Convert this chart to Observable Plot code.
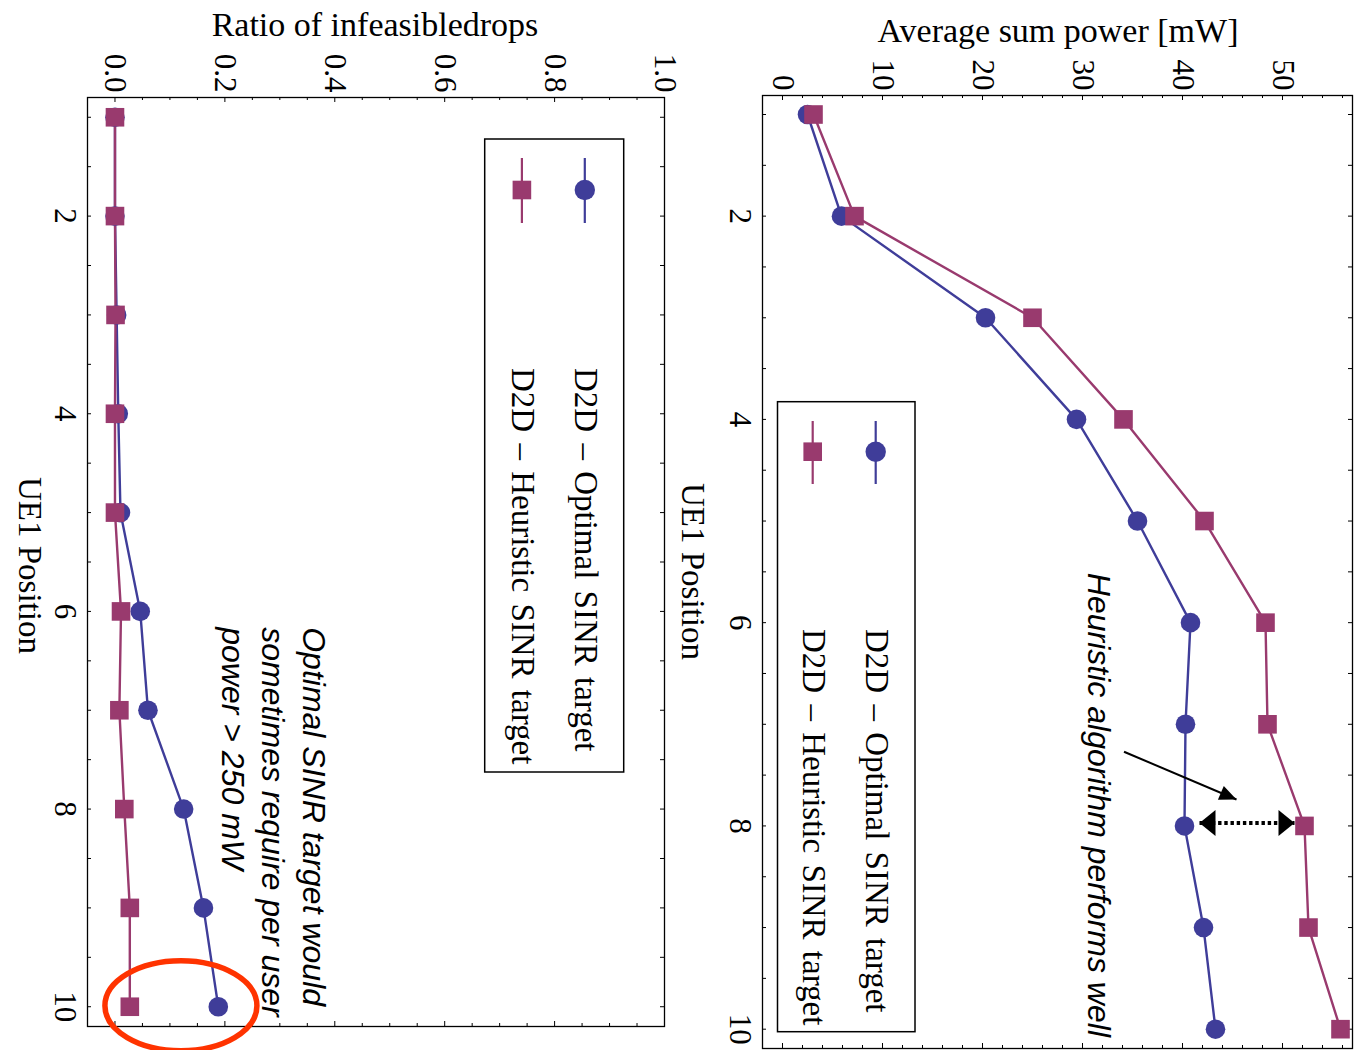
<!DOCTYPE html>
<html>
<head>
<meta charset="utf-8">
<script src="https://cdn.jsdelivr.net/npm/d3@7"></script>
<script src="https://cdn.jsdelivr.net/npm/@observablehq/plot@0.6"></script>
<style>
  html, body { margin: 0; padding: 0; background: #fff; }
  #root { position: relative; width: 1359px; height: 1050px; overflow: hidden; background: #fff; }
  .panel { position: absolute; top: 0; }
  #overlay { position: absolute; left: 0; top: 0; pointer-events: none; }
</style>
</head>
<body>
<div id="root">
  <div class="panel" id="ratioPanel" style="left:0px"></div>
  <div class="panel" id="powerPanel" style="left:700px"></div>
</div>
<script>
// ---------------- data ----------------
const positions      = [1, 2, 3, 4, 5, 6, 7, 8, 9, 10];
const powerOptimal   = [2.5, 5.9, 20.3, 29.4, 35.5, 40.8, 40.3, 40.2, 42.1, 43.3];
const powerHeuristic = [3.1, 7.2, 25.0, 34.1, 42.2, 48.3, 48.5, 52.2, 52.6, 55.8];
const ratioOptimal   = [0.000, 0.000, 0.003, 0.006, 0.010, 0.046, 0.060, 0.125, 0.161, 0.188];
const ratioHeuristic = [0.000, 0.000, 0.001, 0.000, 0.000, 0.011, 0.008, 0.017, 0.027, 0.027];
const seriesNames    = ["D2D \u2013 Optimal SINR target", "D2D \u2013 Heuristic SINR target"];
const powerTicks     = [0, 10, 20, 30, 40, 50];
const ratioTicks     = [0, 0.2, 0.4, 0.6, 0.8, 1.0];
const positionTicks  = [2, 4, 6, 8, 10];
const titles         = ["Average sum power [mW]", "Ratio of infeasibledrops"];
const xLabel         = "UE1 Position";
const noteTop        = "Heuristic algorithm performs well";
const noteBottom     = ["Optimal SINR target would", "sometimes require per user", "power > 250 mW"];

// ---------------- styles ----------------
const blue = "#3f3d99", magenta = "#993a6e", red = "#ff3300";
const serif = "'Liberation Serif', 'Times New Roman', serif";
const sans = "'Liberation Sans', Arial, sans-serif";

const rows = (a, b) => [
  positions.map((p, i) => ({pos: p, value: a[i], series: seriesNames[0]})),
  positions.map((p, i) => ({pos: p, value: b[i], series: seriesNames[1]}))
];

// custom symbols
const ellipseSym = (rx, ry) => ({draw(ctx) {
  const k = 0.5523;
  ctx.moveTo(rx, 0);
  ctx.bezierCurveTo(rx, ry * k, rx * k, ry, 0, ry);
  ctx.bezierCurveTo(-rx * k, ry, -rx, ry * k, -rx, 0);
  ctx.bezierCurveTo(-rx, -ry * k, -rx * k, -ry, 0, -ry);
  ctx.bezierCurveTo(rx * k, -ry, rx, -ry * k, rx, 0);
  ctx.closePath();
}});
const headSym = (len, w, deg) => ({draw(ctx) {
  const a = deg * Math.PI / 180, c = Math.cos(a), s = Math.sin(a);
  const rot = (x, y) => [x * c - y * s, x * s + y * c];
  const p1 = rot(-len, -w / 2), p2 = rot(-len, w / 2);
  ctx.moveTo(0, 0); ctx.lineTo(p1[0], p1[1]); ctx.lineTo(p2[0], p2[1]); ctx.closePath();
}});

// inward frame ticks drawn as short rules at the frame edges
function frameTicks(xMajor, xMinor, yTicks, fw, fh) {
  const st = {stroke: "black", strokeWidth: 1};
  return [
    Plot.ruleX(xMajor, {...st, insetBottom: fh - 5}),
    Plot.ruleX(xMajor, {...st, insetTop: fh - 5}),
    Plot.ruleX(xMinor, {...st, insetBottom: fh - 3}),
    Plot.ruleX(xMinor, {...st, insetTop: fh - 3}),
    Plot.ruleY(yTicks, {...st, insetRight: fw - 4}),
    Plot.ruleY(yTicks, {...st, insetLeft: fw - 4})
  ];
}

function seriesMarks(a, b, rCircle, rSquare) {
  const [opt, heu] = rows(a, b);
  return [
    Plot.line(opt, {x: "value", y: "pos", stroke: blue, strokeWidth: 2.4}),
    Plot.line(heu, {x: "value", y: "pos", stroke: magenta, strokeWidth: 2.4}),
    Plot.dot(opt, {x: "value", y: "pos", symbol: "circle", r: rCircle, fill: blue}),
    Plot.dot(heu, {x: "value", y: "pos", symbol: "square", r: rSquare, fill: magenta})
  ];
}

const yMinorAll = d3.range(2, 21).map(i => i / 2); // 1, 1.5, ... 10

// ---------------- power panel (right) ----------------
const powerMinor = d3.range(1, 29).map(i => i * 2).filter(v => v % 10 !== 0);
const arrowFrom = {value: 34.15, pos: 7.27}, arrowTo = {value: 45.4, pos: 7.74};
const gapLeft = {value: 41.7, pos: 7.97}, gapRight = {value: 51.2, pos: 7.97};
const noteTopAt = {value: 31.6, pos: 5.51};

const powerPlot = Plot.plot({
  width: 659, height: 1050,
  marginLeft: 62, marginRight: 7, marginTop: 95, marginBottom: 2,
  style: {fontFamily: serif, fontSize: "31px", background: "transparent", overflow: "visible", color: "black"},
  x: {domain: [-2, 57]},
  y: {domain: [0.813, 10.19], reverse: true},
  marks: [
    ...frameTicks(powerTicks, powerMinor, yMinorAll, 590, 953),
    Plot.frame({stroke: "black", strokeWidth: 1.3}),
    Plot.axisX({anchor: "top", ticks: powerTicks, tickSize: 0, tickPadding: 5, tickRotate: 90,
      textAnchor: "end", lineAnchor: "middle", fontSize: 31, tickFormat: d3.format("d"), label: null}),
    Plot.axisY({anchor: "left", ticks: positionTicks, tickSize: 0, tickPadding: 10, tickRotate: 90,
      textAnchor: "middle", lineAnchor: "top", fontSize: 31, tickFormat: d3.format("d"), label: null}),
    ...seriesMarks(powerOptimal, powerHeuristic, 9.8, 10.5),
    // annotation arrow
    Plot.link([arrowFrom], {x1: () => arrowFrom.value, y1: () => arrowFrom.pos, x2: () => arrowTo.value, y2: () => arrowTo.pos, stroke: "black", strokeWidth: 2}),
    Plot.dot([arrowTo], {x: "value", y: "pos", r: 1, symbol: headSym(17, 15, 23), fill: "black", stroke: "none"}),
    // dotted double arrow
    Plot.link([gapLeft], {x1: () => gapLeft.value, y1: () => gapLeft.pos, x2: () => gapRight.value, y2: () => gapRight.pos, stroke: "black", strokeWidth: 4, strokeDasharray: "3.4,2.8"}),
    Plot.dot([gapLeft], {x: "value", y: "pos", r: 1, symbol: headSym(16, 26, 180), fill: "black", stroke: "none"}),
    Plot.dot([gapRight], {x: "value", y: "pos", r: 1, symbol: headSym(16, 26, 0), fill: "black", stroke: "none"}),
    Plot.text([noteTop], {x: () => noteTopAt.value, y: () => noteTopAt.pos, text: d => d, rotate: 90,
      textAnchor: "start", lineAnchor: "middle", fontFamily: sans, fontStyle: "italic", fontSize: 32, fill: "black"})
  ]
});
document.getElementById("powerPanel").appendChild(powerPlot);

// ---------------- ratio panel (left) ----------------
const ratioMinor = d3.range(1, 20).filter(i => i % 4 !== 0).map(i => i * 0.05);
const noteBottomAt = {value: 0.292, pos: 6.16};
const circleAt = {value: 0.12, pos: 9.99};

const ratioPlot = Plot.plot({
  width: 700, height: 1050,
  marginLeft: 87, marginRight: 36, marginTop: 97, marginBottom: 24,
  style: {fontFamily: serif, fontSize: "31px", background: "transparent", overflow: "visible", color: "black"},
  x: {domain: [-0.05, 1.0]},
  y: {domain: [0.8, 10.2], reverse: true},
  marks: [
    ...frameTicks(ratioTicks, ratioMinor, yMinorAll, 577, 929),
    Plot.frame({stroke: "black", strokeWidth: 1.3}),
    Plot.axisX({anchor: "top", ticks: ratioTicks, tickSize: 0, tickPadding: 5, tickRotate: 90,
      textAnchor: "end", lineAnchor: "middle", fontSize: 31, tickFormat: d3.format(".1f"), label: null}),
    Plot.axisY({anchor: "left", ticks: positionTicks, tickSize: 0, tickPadding: 10, tickRotate: 90,
      textAnchor: "middle", lineAnchor: "top", fontSize: 31, tickFormat: d3.format("d"), label: null}),
    ...seriesMarks(ratioOptimal, ratioHeuristic, 9.8, 10.5),
    Plot.text([noteBottom.join("\n")], {x: () => noteBottomAt.value, y: () => noteBottomAt.pos, text: d => d, rotate: 90,
      textAnchor: "start", lineAnchor: "middle", lineHeight: 1.27, fontFamily: sans, fontStyle: "italic", fontSize: 32, fill: "black"}),
    Plot.dot([circleAt], {x: "value", y: "pos", r: 1, symbol: ellipseSym(76, 45), fill: "none", stroke: red, strokeWidth: 5.5})
  ]
});
document.getElementById("ratioPanel").appendChild(ratioPlot);

// ---------------- overlay: titles, axis labels, legends ----------------
const ov = d3.select("#root").append("svg").attr("id", "overlay")
  .attr("width", 1359).attr("height", 1050)
  .style("font-family", serif);

ov.append("text").attr("x", 1058).attr("y", 41.5).attr("text-anchor", "middle")
  .attr("font-size", 34).text(titles[0]);
ov.append("text").attr("x", 375).attr("y", 36).attr("text-anchor", "middle")
  .attr("font-size", 34).text(titles[1]);

function rotLabel(x, y, txt, size, wordSpacing) {
  const t = ov.append("text").attr("transform", `translate(${x},${y}) rotate(90)`)
    .attr("dy", "0.33em").attr("font-size", size).text(txt);
  if (wordSpacing) t.attr("word-spacing", wordSpacing);
}
rotLabel(693, 483, xLabel, 33);
rotLabel(30, 477, xLabel, 33);

function legend(box, xs, lineY, markY, textY) {
  ov.append("rect").attr("x", box.x).attr("y", box.y).attr("width", box.w).attr("height", box.h)
    .attr("fill", "white").attr("stroke", "black").attr("stroke-width", 1.5);
  const colors = [blue, magenta];
  seriesNames.forEach((name, i) => {
    const x = xs[i];
    ov.append("line").attr("x1", x).attr("x2", x).attr("y1", lineY[0]).attr("y2", lineY[1])
      .attr("stroke", colors[i]).attr("stroke-width", 2.2);
    if (i === 0) ov.append("circle").attr("cx", x).attr("cy", markY).attr("r", 10.2).attr("fill", colors[i]);
    else ov.append("rect").attr("x", x - 9.3).attr("y", markY - 9.3).attr("width", 18.6).attr("height", 18.6).attr("fill", colors[i]);
    rotLabel(x + 1, textY, name, 33, 3);
  });
}
legend({x: 777.5, y: 401.7, w: 137.5, h: 630}, [875.7, 812.7], [421, 484], 451.7, 629);
legend({x: 484.7, y: 139, w: 139, h: 633}, [584.8, 521.9], [158, 223], 190, 368);
</script>
</body>
</html>
